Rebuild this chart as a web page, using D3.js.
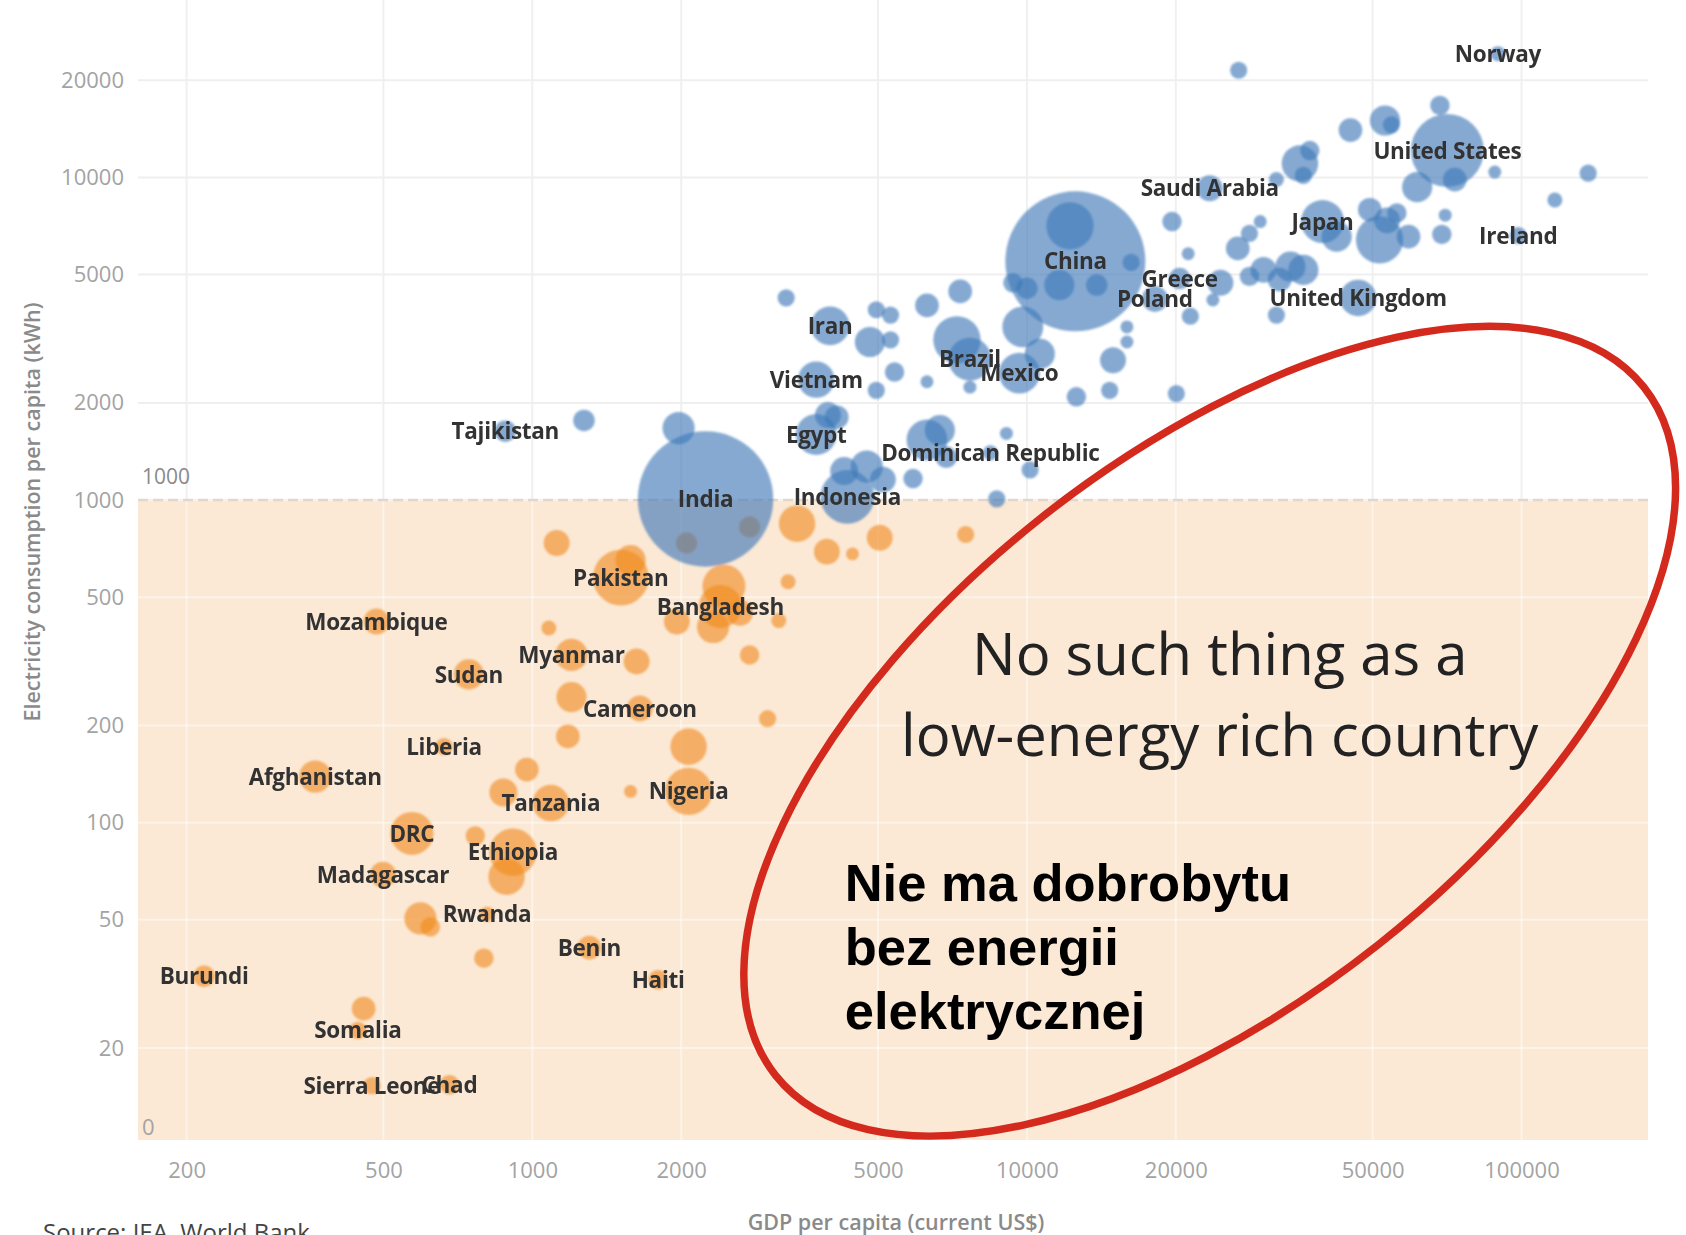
<!DOCTYPE html>
<html><head><meta charset="utf-8">
<script src="https://cdn.jsdelivr.net/npm/d3@7"></script>
<style>
html,body{margin:0;padding:0;background:#fff;}
svg{display:block;}
</style></head>
<body>
<svg id="chart" width="1686" height="1235"></svg>
<script>
// ---------------- DATA ----------------
const countries = [
"", "Pakistan", "", "", "Myanmar", "", "", "", "Cameroon", "", "Nigeria", "", "", "Tanzania", "",
"Bangladesh", "", "", "", "", "", "", "", "", "", "", "", "", "", "", "",
"Mozambique", "Sudan", "Liberia", "Afghanistan", "DRC", "", "Ethiopia", "", "Madagascar", "", "", "Rwanda", "",
"Benin", "Haiti", "Burundi", "", "Somalia", "Sierra Leone", "Chad",
"", "Norway", "United States", "", "", "", "", "", "", "", "", "", "", "", "", "",
"Ireland", "", "", "Japan", "", "", "", "", "", "",
"Saudi Arabia", "", "", "", "", "", "", "", "", "", "", "United Kingdom", "", "", "Greece", "", "", "Poland", "", "",
"China", "", "", "", "", "", "", "", "", "", "", "Mexico", "", "", "", "", "Brazil", "", "", "",
"", "Iran", "", "", "", "", "Vietnam", "", "", "", "Egypt", "", "Indonesia", "", "", "",
"", "", "", "", "Dominican Republic", "", "", "", "India", "", "Tajikistan", ""
];
const gdpPerCapita = [
1120, 1510, 1580, 1080, 1200, 1625, 1200, 1180, 1650, 2070, 2070, 1580, 975, 1090, 874,
2400, 2440, 2320, 1960, 2630, 3290, 3150, 2750, 2990, 3430, 3940, 4440, 5040, 7520, 2050, 2750,
484, 744, 663, 364, 571, 767, 914, 887, 499, 594, 622, 810, 798,
1304, 1796, 217, 456, 444, 474, 680,
26800, 89600, 70800, 68400, 52970, 54580, 45100, 37320, 35650, 36220, 31950, 61520, 73300, 88300, 136400, 116800,
98500, 70100, 69000, 39600, 42300, 51640, 49350, 55970, 59100, 53480,
23420, 19650, 29630, 28180, 26690, 21190, 28180, 30080, 34100, 36220, 32430, 46740, 31950, 24620, 20360, 23770, 21400, 18140, 20050, 16250,
12530, 12220, 11630, 10000, 13840, 9370, 15930, 15930, 14930, 12590, 9810, 9656, 10620, 7330, 6280, 7220, 7670, 6280, 7670, 14700,
3260, 4000, 4960, 5300, 4815, 5300, 3750, 3960, 4960, 5400, 3750, 4125, 4335, 4745, 5115, 4270,
6280, 6668, 5885, 6870, 8435, 9090, 10150, 8690, 2240, 1976, 882, 1272
];
const electricityKwh = [
736, 575, 651, 401, 331, 316, 245, 185, 226, 172, 125, 125, 146, 115, 124,
468, 541, 404, 420, 447, 558, 423, 331, 210, 845, 692, 681, 764, 782, 736, 825,
420, 288, 172, 139, 92.6, 91, 81, 68, 69, 50.5, 47.5, 52, 38,
41, 32.6, 33.4, 26.5, 22.7, 15.3, 15.4,
21500, 24200, 12120, 16720, 15020, 14560, 14020, 12120, 11050, 10150, 9850, 9330, 9850, 10390, 10310, 8510,
6610, 7640, 6660, 7300, 6556, 6406, 7943, 7762, 6556, 7360,
9260, 7300, 7300, 6710, 6026, 5800, 4937, 5170, 5290, 5170, 4822, 4233, 3744, 4714, 4862, 4169, 3715, 4202, 2138, 5455,
5495, 7080, 4640, 4535, 4640, 4714, 3441, 3090, 2712, 2089, 3441, 2474, 2840, 4433, 4013, 3138, 2733, 2326, 2239, 2188,
4233, 3467, 3890, 3744, 3090, 3138, 2362, 1834, 2188, 2493, 1597, 1806, 1023, 1269, 1157, 1230,
1537, 1647, 1166, 1359, 1402, 1609, 1240, 1008, 1008, 1672, 1635, 1765
];
const populationM = [
48, 223, 65, 16, 74, 48, 65, 40, 48, 95, 160, 12, 40, 95, 56,
132, 132, 74, 48, 48, 16, 16, 27, 21, 95, 48, 12, 48, 21, 33, 33,
48, 65, 21, 74, 132, 27, 160, 95, 48, 74, 27, 16, 27,
40, 27, 33, 40, 21, 21, 27,
21, 16, 380, 27, 65, 21, 40, 27, 95, 21, 16, 65, 40, 12, 21, 16,
21, 12, 27, 132, 65, 160, 40, 27, 40, 48,
48, 27, 12, 21, 40, 12, 27, 48, 65, 65, 40, 95, 21, 48, 33, 12, 21, 48, 21, 21,
1400, 160, 65, 33, 33, 27, 12, 12, 48, 27, 119, 119, 65, 40, 40, 160, 132, 12, 12, 21,
21, 107, 21, 21, 65, 21, 95, 48, 21, 27, 119, 40, 206, 74, 48, 56,
119, 65, 27, 33, 16, 12, 21, 21, 1310, 74, 33, 33
];
const xTickValues = [200, 500, 1000, 2000, 5000, 10000, 20000, 50000, 100000];
const yTickValues = [20, 50, 100, 200, 500, 1000, 2000, 5000, 10000, 20000];
const yZeroLabel = {value: 11.4, text: "0"};
const thresholdKwh = 1000;
const xDomain = [159.5, 180200];
const yDomain = [10.38, 30770];
const popDomainMax = 1400;
const ellipseCenter = {gdp: 23420, kwh: 192};
const englishNote = ["No such thing as a", "low-energy rich country"];
const polishNote = ["Nie ma dobrobytu", "bez energii", "elektrycznej"];

// ---------------- LAYOUT ----------------
const plot = {left: 138, right: 1648, top: 0, bottom: 1140};
const svg = d3.select("#chart");

const x = d3.scaleLog().domain(xDomain).range([plot.left, plot.right]);
const y = d3.scaleLog().domain(yDomain).range([plot.bottom, 20]);
const r = d3.scaleSqrt().domain([0, popDomainMax]).range([0, 70]);

const data = countries.map((c, i) => ({
  name: c, gdp: gdpPerCapita[i], kwh: electricityKwh[i], pop: populationM[i]
}));

const labelFont = "'Open Sans', 'Lato', sans-serif";

const defs = svg.append("defs");
defs.append("filter").attr("id", "soft").append("feGaussianBlur").attr("stdDeviation", 0.9);
defs.append("filter").attr("id", "softText").append("feGaussianBlur").attr("stdDeviation", 0.35);

// grid (white area)
const grid = svg.append("g");
grid.selectAll("line.v").data(xTickValues).join("line")
  .attr("x1", d => x(d)).attr("x2", d => x(d))
  .attr("y1", plot.top).attr("y2", plot.bottom)
  .attr("stroke", "#f0f0f0").attr("stroke-width", 2);
grid.selectAll("line.h").data(yTickValues).join("line")
  .attr("x1", plot.left).attr("x2", plot.right)
  .attr("y1", d => y(d)).attr("y2", d => y(d))
  .attr("stroke", "#efefef").attr("stroke-width", 2);

// low-energy band
const bandTop = y(thresholdKwh);
svg.append("rect")
  .attr("x", plot.left).attr("y", bandTop)
  .attr("width", plot.right - plot.left).attr("height", plot.bottom - bandTop)
  .attr("fill", "#fbe9d6");

// lighter grid inside band
svg.append("clipPath").attr("id", "bandclip").append("rect")
  .attr("x", plot.left).attr("y", bandTop)
  .attr("width", plot.right - plot.left).attr("height", plot.bottom - bandTop);
const grid2 = svg.append("g").attr("clip-path", "url(#bandclip)");
grid2.selectAll("line.v").data(xTickValues).join("line")
  .attr("x1", d => x(d)).attr("x2", d => x(d))
  .attr("y1", plot.top).attr("y2", plot.bottom)
  .attr("stroke", "#fff").attr("stroke-opacity", 0.45).attr("stroke-width", 2);
grid2.selectAll("line.h").data(yTickValues).join("line")
  .attr("x1", plot.left).attr("x2", plot.right)
  .attr("y1", d => y(d)).attr("y2", d => y(d))
  .attr("stroke", "#fff").attr("stroke-opacity", 0.45).attr("stroke-width", 2);

// dashed threshold line
svg.append("line")
  .attr("x1", plot.left).attr("x2", plot.right)
  .attr("y1", bandTop).attr("y2", bandTop)
  .attr("stroke", "#e3d7cb").attr("stroke-width", 2.5)
  .attr("stroke-dasharray", "10,5");
svg.append("text")
  .attr("x", plot.left + 4).attr("y", bandTop - 16)
  .attr("font-family", labelFont).attr("font-size", 21)
  .attr("fill", "#8a8a8a").text(d3.format("d")(thresholdKwh));

// bubbles
const orange = data.filter(d => d.kwh < thresholdKwh);
const blue = data.filter(d => d.kwh >= thresholdKwh);
const bubbles = svg.append("g").attr("filter", "url(#soft)");
bubbles.append("g").selectAll("circle").data(orange).join("circle")
  .attr("cx", d => x(d.gdp)).attr("cy", d => y(d.kwh)).attr("r", d => r(d.pop))
  .attr("fill", "#f18d22").attr("fill-opacity", 0.64);
bubbles.append("g").selectAll("circle").data(blue).join("circle")
  .attr("cx", d => x(d.gdp)).attr("cy", d => y(d.kwh)).attr("r", d => r(d.pop))
  .attr("fill", "#3d78b8").attr("fill-opacity", 0.63);

// country labels
svg.append("g").attr("filter", "url(#softText)").selectAll("text").data(data.filter(d => d.name)).join("text")
  .attr("x", d => x(d.gdp)).attr("y", d => y(d.kwh))
  .attr("dy", "0.36em")
  .attr("text-anchor", "middle")
  .attr("font-family", labelFont).attr("font-weight", 700).attr("font-size", 22.5)
  .attr("letter-spacing", -0.3)
  .attr("fill", "#333").text(d => d.name);

// axes
const yAxis = d3.axisLeft(y).tickValues(yTickValues).tickFormat(d3.format("d")).tickSize(0).tickPadding(14);
const gy = svg.append("g").attr("transform", `translate(${plot.left},0)`).call(yAxis);
gy.select(".domain").remove();
gy.selectAll("text").attr("font-family", labelFont).attr("font-size", 22).attr("fill", "#a3a3a3");

svg.append("text")
  .attr("x", plot.left + 4).attr("y", y(yZeroLabel.value)).attr("dy", "0.36em")
  .attr("font-family", labelFont).attr("font-size", 22).attr("fill", "#a3a3a3")
  .text(yZeroLabel.text);

const xAxis = d3.axisBottom(x).tickValues(xTickValues).tickFormat(d3.format("d")).tickSize(0).tickPadding(22);
const gx = svg.append("g").attr("transform", `translate(0,${plot.bottom})`).call(xAxis);
gx.select(".domain").remove();
gx.selectAll("text").attr("font-family", labelFont).attr("font-size", 22).attr("fill", "#a3a3a3");

// axis titles
svg.append("text")
  .attr("transform", `translate(32,${y(thresholdKwh) + 12}) rotate(-90)`)
  .attr("dy", "0.35em").attr("text-anchor", "middle")
  .attr("font-family", labelFont).attr("font-weight", 600).attr("font-size", 21.5)
  .attr("fill", "#8a8a8a").text("Electricity consumption per capita (kWh)");
svg.append("text")
  .attr("x", (plot.left + plot.right) / 2 + 3).attr("y", 1230)
  .attr("text-anchor", "middle")
  .attr("font-family", labelFont).attr("font-weight", 600).attr("font-size", 21.5)
  .attr("fill", "#8a8a8a").text("GDP per capita (current US$)");
svg.append("text")
  .attr("x", 43).attr("y", 1241)
  .attr("font-family", labelFont).attr("font-size", 24)
  .attr("fill", "#444").text("Source: IEA, World Bank");

// red ellipse annotation
const ex = x(ellipseCenter.gdp), ey = y(ellipseCenter.kwh);
svg.append("ellipse")
  .attr("cx", 0).attr("cy", 0).attr("rx", 554).attr("ry", 272)
  .attr("transform", `translate(${ex},${ey}) rotate(-38.4)`)
  .attr("fill", "none").attr("stroke", "#d42a1e").attr("stroke-width", 7.5);

// annotation texts
svg.append("g").selectAll("text").data(englishNote).join("text")
  .attr("x", ex + 10).attr("y", (d, i) => ey - 56 + i * 81)
  .attr("text-anchor", "middle")
  .attr("font-family", "'Open Sans', sans-serif").attr("font-size", 58)
  .attr("fill", "#222").text(d => d);

svg.append("g").selectAll("text").data(polishNote).join("text")
  .attr("x", ex - 365).attr("y", (d, i) => ey + 170 + i * 64)
  .attr("font-family", "'Liberation Sans', Arial, sans-serif").attr("font-weight", 700).attr("font-size", 52.5)
  .attr("fill", "#000").text(d => d);
</script>
</body></html>
